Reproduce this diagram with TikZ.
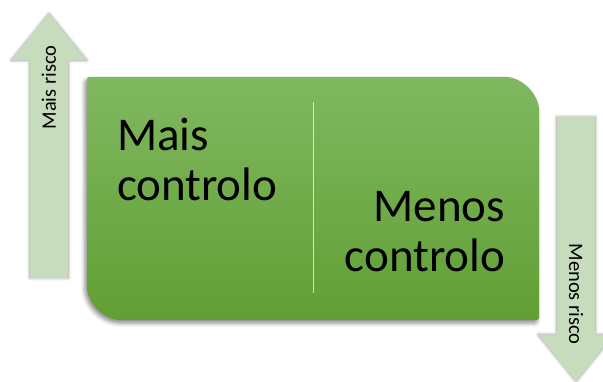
\documentclass[tikz,border=0pt]{standalone}
\usepackage{fontspec}
\setmainfont{Carlito}
\usetikzlibrary{positioning,calc,shapes.arrows,shadows.blur}
\definecolor{boxtop}{RGB}{128,184,96}
\definecolor{boxbottom}{RGB}{97,159,52}
\definecolor{arrowgreen}{RGB}{199,220,189}
\tikzset{
    riskarrow/.style={
        single arrow,
        fill=arrowgreen,
        inner xsep=0pt, inner ysep=19pt,
        single arrow head extend=18.5pt,
        single arrow tip angle=78,
        minimum height=264pt,
        anchor=tail,
        blur shadow={shadow xshift=0pt, shadow yshift=0pt,
                     shadow blur radius=3pt, shadow opacity=45}
    },
    risklabel/.style={font=\fontsize{20.5}{24}\selectfont, inner sep=0pt},
    bigtext/.style={font=\fontsize{47}{50}\selectfont, inner sep=0pt},
    divider/.style={draw=white, line width=0.8pt, opacity=0.7},
    greenbox/.style={
        top color=boxtop, bottom color=boxbottom,
        rounded corners=3pt,
        blur shadow={shadow xshift=-2pt, shadow yshift=-3pt,
                     shadow blur radius=4pt, shadow opacity=45}
    }
}
\begin{document}
\begin{tikzpicture}[x=1pt,y=1pt]
\useasboundingbox (0,0) rectangle (603,382);
\node[minimum width=452pt, minimum height=243pt, inner sep=0pt] (box) at (313,183.5) {};
\path[greenbox] (box.north west) -- ([xshift=-38pt]box.north east)
    arc[start angle=90, end angle=0, radius=38pt] -- (box.south east)
    -- ([xshift=38pt]box.south west)
    arc[start angle=270, end angle=180, radius=38pt] -- cycle;
\draw[divider] ([yshift=-25pt]box.north) -- ([yshift=27pt]box.south);
\node[bigtext, align=left, below right=41pt and 30pt of box.north west] (more) {Mais\\controlo};
\node[bigtext, align=right, above left=48pt and 34pt of box.south east] (less) {Menos\\controlo};
\node[riskarrow, rotate=90] (up) at (49,104) {};
\node[riskarrow, rotate=-90] (down) at (576,265) {};
\node[risklabel, rotate=90] (uplabel) at ($(up.tip)!0.28!(up.tail)$) {Mais risco};
\node[risklabel, rotate=-90] (downlabel) at ($(down.tip)!0.33!(down.tail)$) {Menos risco};
\end{tikzpicture}
\end{document}
